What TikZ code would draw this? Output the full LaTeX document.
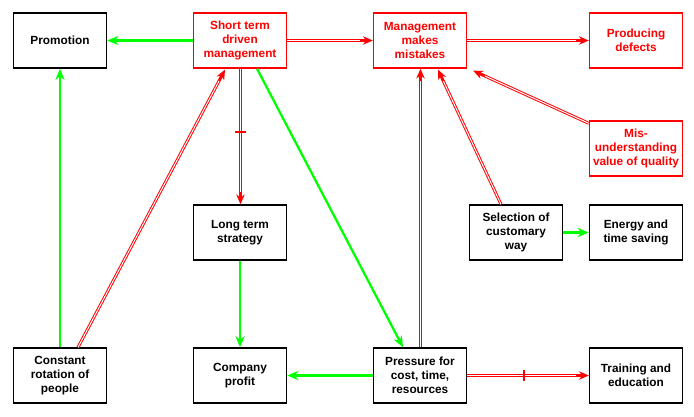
\documentclass[tikz,border=0pt]{standalone}
\usepackage{fontspec}
\setsansfont{Liberation Sans}
\usetikzlibrary{arrows.meta,calc}

\definecolor{posgreen}{RGB}{0,255,0}
\definecolor{negred}{RGB}{255,0,0}

\tikzset{
  box/.style={draw=black, line width=0.95pt, minimum width=2.325cm, minimum height=1.375cm,
    inner sep=1pt, align=center, font=\sffamily\bfseries\fontsize{8.4}{10}\selectfont},
  redbox/.style={box, draw=negred, text=negred},
  greenlink/.style={draw=posgreen, line width=1.6pt, -{Stealth[length=8pt,width=6.5pt]}},
  redlink/.style={draw=negred, line width=2.1pt, -{Stealth[length=7pt,width=6pt]},
    postaction={draw=white, line width=0.7pt, -, shorten >=9pt}},
  delaybar/.style={draw=negred, line width=1.4pt, sloped, minimum width=0pt,
    minimum height=7.5pt, inner sep=0pt}
}

\begin{document}
\begin{tikzpicture}[x=0.025cm, y=-0.025cm]
  %%%%% FRAME %%%%%
  \useasboundingbox[fill=white] (0,0) rectangle (694,416);

  %%%%% BOXES %%%%%
  \node[box]    (promo)   at (60,40.5)   {Promotion};
  \node[redbox] (short)   at (240,40.5)  {Short term\\driven\\management};
  \node[redbox] (mgmt)    at (420,40.5)  {Management\\makes\\mistakes};
  \node[redbox] (defects) at (636,40.5)  {Producing\\defects};
  \node[redbox] (misund)  at (636,148.5) {Mis-\\understanding\\value of quality};
  \node[box]    (longterm) at (240,232.5) {Long term\\strategy};
  \node[box]    (select)  at (516,232.5) {Selection of\\customary\\way};
  \node[box]    (energy)  at (636,232.5) {Energy and\\time saving};
  \node[box]    (rotation) at (60,375.5) {Constant\\rotation of\\people};
  \node[box]    (profit)  at (240,375.5) {Company\\profit};
  \node[box]    (pressure) at (420,375.5) {Pressure for\\cost, time,\\resources};
  \node[box]    (training) at (636,375.5) {Training and\\education};

  %%%%% GREEN LINKS %%%%%
  \draw[greenlink] (short.west) -- (promo.east);
  \draw[greenlink] (rotation.north) -- (promo.south);
  \draw[greenlink] ($(short.south)+(17,0)$) -- ($(pressure.north)+(-17,0)$);
  \draw[greenlink] (longterm.south) -- (profit.north);
  \draw[greenlink] (pressure.west) -- (profit.east);
  \draw[greenlink] (select.east) -- (energy.west);

  %%%%% RED LINKS %%%%%
  \draw[redlink] (short.east) -- (mgmt.west);
  \draw[redlink] (mgmt.east) -- (defects.west);
  \draw[redlink] ($(misund.north west)+(0,3)$) -- ($(mgmt.south east)+(6,2)$);
  \draw[redlink] ($(pressure.north)+(0.5,0)$) -- ($(mgmt.south)+(0.5,0)$);
  \draw[redlink] ($(select.north)+(-15,0)$) -- ($(mgmt.south)+(18,1)$);
  \draw[redlink] ($(rotation.north)+(18,0)$) -- ($(short.south)+(-15,1)$);
  \draw[redlink] ($(short.south)+(0.5,0)$) -- node[delaybar, pos=0.47] {} ($(longterm.north)+(0.5,0)$);
  \draw[redlink] (pressure.east) -- node[delaybar, pos=0.47] {} (training.west);
\end{tikzpicture}
\end{document}
